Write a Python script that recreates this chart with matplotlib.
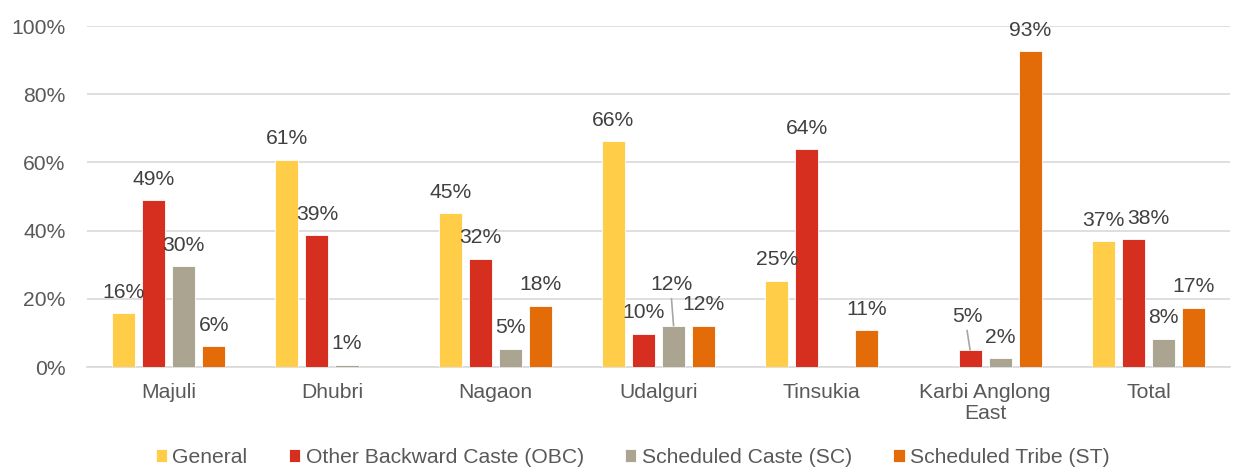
import numpy as np
import matplotlib
matplotlib.use('Agg')
import matplotlib.pyplot as plt

plt.rcParams['font.family'] = ['Liberation Sans', 'DejaVu Sans']

districts = ['Majuli', 'Dhubri', 'Nagaon', 'Udalguri', 'Tinsukia',
             'Karbi Anglong\nEast', 'Total']
series_names = ['General', 'Other Backward Caste (OBC)',
                'Scheduled Caste (SC)', 'Scheduled Tribe (ST)']
general = [15.7, 60.8, 45.2, 66.2, 25.3, None, 36.9]
obc = [48.9, 38.6, 31.8, 9.8, 63.8, 5.0, 37.5]
sc = [29.6, 0.7, 5.4, 12.1, None, 2.5, 8.3]
st = [6.2, None, 18.0, 12.1, 10.9, 92.6, 17.4]

colors = ['#FFCD47', '#D62E1F', '#ABA491', '#E36C09']
text_color = '#404040'
axis_color = '#595959'
fs = 15.2

fig = plt.figure(figsize=(12.33, 4.67), dpi=100)
ax = fig.add_axes([0.0706, 0.2141, 0.927, 0.7302])

x = np.arange(len(districts))
width = 0.141
pitch = 0.184
# manual label nudges (points): (series, category) -> (dx, extra lift)
nudge = {(2, 3): (-1.5, 14.7), (1, 5): (-2.2, 9.4), (1, 6): (11, 0)}
leaders = [(2, 3), (1, 5)]

for i, (name, vals, col) in enumerate(zip(series_names, [general, obc, sc, st], colors)):
    v = np.array([np.nan if a is None else a for a in vals], dtype=float)
    xs = x + (i - 1.5) * pitch
    ax.bar(xs, np.nan_to_num(v), width, color=col, label=name,
           edgecolor='white', linewidth=0.6, zorder=3)
    for j, (xx, yy) in enumerate(zip(xs, v)):
        if np.isnan(yy):
            continue
        dx, dy = nudge.get((i, j), (0, 0))
        lift = 11 + dy
        ax.annotate(f'{yy:.0f}%', (xx, yy), xytext=(dx, lift),
                    textcoords='offset points', ha='center', va='baseline',
                    fontsize=fs, color=text_color, zorder=4)
        if (i, j) in leaders:
            ax.annotate('', (xx, yy), xytext=(dx, lift - 6.3),
                        textcoords='offset points',
                        arrowprops=dict(arrowstyle='-', color='#A6A6A6', lw=1.2,
                                        shrinkA=0, shrinkB=0))

ax.set_ylim(0, 100)
ax.set_xlim(-0.5, len(districts) - 0.5)
ax.set_yticks(np.arange(0, 101, 20))
ax.set_yticklabels([f'{t}%' for t in range(0, 101, 20)])
ax.set_xticks(x)
ax.set_xticklabels(districts, linespacing=1.15)
ax.tick_params(axis='both', length=0, labelsize=fs, labelcolor=axis_color)
ax.tick_params(axis='x', pad=11.5)
ax.tick_params(axis='y', pad=15.5)
ax.grid(axis='y', color='#D9D9D9', linewidth=1.2, zorder=0)
for s in ['top', 'right', 'left']:
    ax.spines[s].set_visible(False)
ax.spines['bottom'].set_color('#D9D9D9')
ax.spines['bottom'].set_linewidth(1.2)

leg = fig.legend(loc='lower center', bbox_to_anchor=(0.513, -0.04), ncol=4,
                 frameon=False, fontsize=fs, handlelength=0.55,
                 handleheight=0.55, handletextpad=0.25, columnspacing=1.95)
for t in leg.get_texts():
    t.set_color(axis_color)

fig.savefig('out.png', dpi=100)
